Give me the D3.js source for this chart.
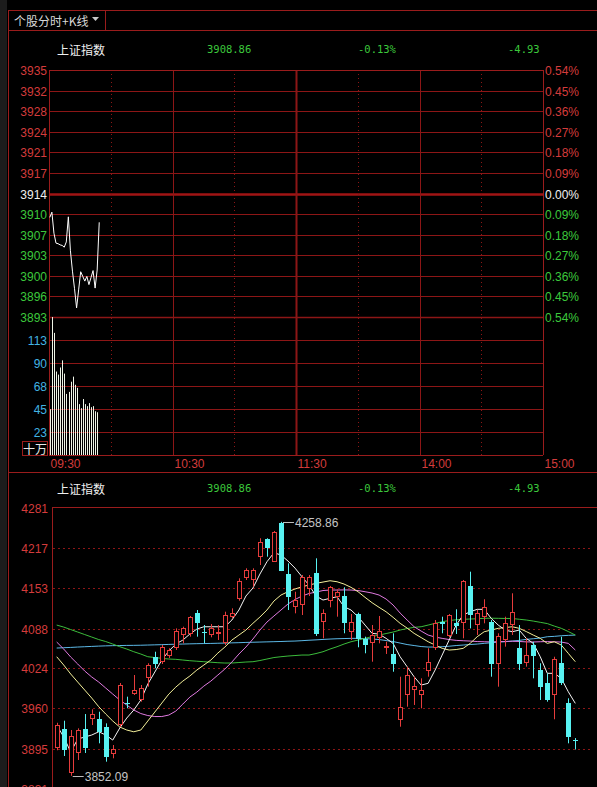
<!DOCTYPE html>
<html><head><meta charset="utf-8">
<script src="https://cdn.jsdelivr.net/npm/d3@7"></script>
<style>
html,body{margin:0;padding:0;background:#000;overflow:hidden;}
svg{display:block;}
</style></head>
<body>
<svg id="c" width="597" height="787"></svg>
<script>
// ---------- data ----------
const title = "上证指数";
const tabLabel = "个股分时+K线";
const preClose = 3913.79;
const lastPrice = "3908.86";
const changePct = "-0.13%";
const changeVal = "-4.93";

const priceTicks = [3935,3932,3928,3924,3921,3917,3914,3910,3907,3903,3900,3896,3893];
const pctValues  = [0.54,0.45,0.36,0.27,0.18,0.09,0,-0.09,-0.18,-0.27,-0.36,-0.45,-0.54];
const pctLabels  = ["0.54%","0.45%","0.36%","0.27%","0.18%","0.09%","0.00%","0.09%","0.18%","0.27%","0.36%","0.45%","0.54%"];
const volTicks = [113,90,68,45,23];
const volUnit = "十万";
const timeLabels = ["09:30","10:30","11:30","14:00","15:00"];
const timeMinutes = [0,60,120,180,240];

const intradayPrice = [3909.7,3910.6,3907.0,3905.3,3905.2,3905.0,3904.9,3904.6,3905.5,3909.8,
  3904.0,3900.5,3897.5,3894.2,3897.3,3900.4,3899.6,3898.8,3899.6,3898.2,
  3899.4,3900.6,3897.6,3900.7,3908.86];
const intradayVolume = [45,136,120,82,79,86,93,80,60,62,72,77,69,66,50,46,55,50,48,51,47,48,43,42];

const kTicks = [4281,4217,4153,4088,4024,3960,3895,3831];
const kOpen = [3896,3926.5,3856.6,3888.1,3926.5,3942.6,3942.6,3930.7,3887,3933.4,
  3969,3983.1,3973.5,4008.2,4042.8,4034.8,4043.9,4056.3,4077.6,4079.2,
  4113.3,4083,4077.6,4081,4064.3,4106.9,4134.8,4168.4,4165.7,4203,
  4230.8,4195,4257.5,4175.3,4122.9,4125.6,4151.3,4176.4,4098.9,4132.5,
  4138.9,4140,4082.9,4111.2,4070.7,4064.3,4072.3,4056.3,4047.2,3941.4,
  3981.5,3989.5,3981.5,4020.4,4056.3,4099,4076,4097.3,4096.3,4156,
  4093.6,4106.9,4098.9,4031.1,4069.2,4093.6,4056.3,4033.2,4061.6,4021.5,
  4000.6,3981.5,4033.2,3968.2,3909.7];
const kHigh = [3937,3940.3,3925.4,3928.1,3951,3958.6,3954.7,3936.1,3901.4,4000.7,
  3978.8,4013.5,3997.5,4032.3,4050.8,4061.6,4056.3,4088.2,4090.9,4108,
  4117.6,4093.6,4095.2,4093.6,4114.9,4120.3,4168.4,4184.4,4184.4,4232.5,
  4232.5,4244.2,4258.86,4192.4,4146.9,4173.7,4173.7,4200.4,4118.8,4156,
  4150.7,4154,4111.2,4113.3,4074.9,4093.6,4108,4066.8,4080.3,4010.8,
  4026.8,4010.8,4008.2,4056.3,4101.6,4106.9,4111.2,4118.8,4165.7,4179,
  4117.6,4134.8,4101.6,4080.3,4106.9,4144.4,4093.6,4072.3,4066.8,4032.3,
  4016.1,4042.8,4074.9,3976.2,3912.5];
const kLow = [3893,3883.8,3852.09,3877.4,3888.6,3933.4,3904.1,3874.7,3880.1,3930.2,
  3960.2,3981.5,3970.8,3994.8,4024.3,4031.1,4040.7,4053.6,4064.3,4074.9,
  4074.9,4064.3,4073.9,4069.6,4061.6,4104.3,4132.5,4165.7,4155,4189.7,
  4203,4194.5,4180,4117.6,4112.3,4109.6,4140,4076,4072.3,4121.9,
  4106.9,4080.3,4069.6,4057.9,4048.3,4034.8,4064.3,4047.2,4018.8,3930.7,
  3962.7,3965.5,3960.2,4010.8,4053.6,4080.3,4073.9,4079.2,4072.3,4088.2,
  4077.6,4096.3,4010.8,3994.8,4058.9,4077.6,4021.5,4026.8,4008.2,3973.5,
  3970.8,3942.6,3997.5,3904.1,3894.2];
const kClose = [3933,3893.4,3915.8,3925.4,3896.1,3951,3922.7,3881.7,3894.5,3997.5,
  3967,3989.5,3992.2,4029.5,4031.1,4058.9,4053.6,4084.4,4088.2,4106.9,
  4096.3,4081,4088.2,4083,4109.6,4113.3,4164.6,4181.7,4181.7,4227,
  4216.4,4243,4180.6,4138,4133.6,4170.9,4170.5,4078.4,4113.3,4154,
  4146.9,4096.3,4098.9,4070.7,4061.6,4077.6,4084.4,4060,4031.1,3962.7,
  4013.5,3995.9,3989.5,4034.8,4097.3,4095,4109.6,4092,4164.6,4109.6,
  4113.3,4121.9,4031.1,4076,4097.3,4114.9,4031.1,4045.5,4043.9,3993.8,
  3973.5,4038.7,4000.2,3913.8,3908.86];

const ma5 = [3933.4,3914.2,3890.1,3910.9,3914.2,3917.4,3922.6,3917.4,3909.3,3928.6,
  3944.6,3957.4,3973.5,3999.0,4018.3,4037.5,4051.9,4063.1,4069.5,4079.1,
  4087.1,4090.8,4090.8,4090.8,4090.8,4101.6,4117.6,4140.0,4152.8,4175.2,
  4194.9,4209.3,4205.7,4196.1,4184.8,4170.9,4157.6,4140.0,4133.6,4136.3,
  4138.9,4122.9,4117.6,4106.8,4093.5,4080.2,4079.1,4072.2,4064.2,4042.8,
  4026.8,4010.7,3997.4,4000.2,4021.5,4045.5,4069.5,4093.5,4109.6,4114.8,
  4118.7,4118.7,4104.3,4093.5,4085.5,4082.8,4085.5,4072.2,4064.2,4042.8,
  4016.2,4016.2,4008.2,3986.7,3968.1];
const ma10 = [4042.8,4029.5,4015.1,4002.2,3989.4,3976.6,3962.7,3951.0,3939.8,3930.2,
  3925.4,3922.6,3925.4,3939.8,3954.2,3968.6,3983.0,3994.2,4003.8,4011.9,
  4021.5,4029.5,4037.5,4048.7,4058.3,4069.5,4077.5,4085.5,4096.3,4106.4,
  4117.6,4132.0,4141.6,4146.9,4151.2,4154.9,4157.6,4160.3,4162.4,4164.5,
  4162.9,4159.2,4153.9,4146.9,4137.9,4129.3,4121.9,4114.8,4105.9,4096.3,
  4088.7,4080.2,4073.5,4066.8,4061.5,4056.2,4053.5,4054.3,4056.2,4064.2,
  4074.8,4082.8,4085.5,4088.3,4089.5,4090.8,4088.3,4083.1,4077.5,4072.2,
  4064.2,4066.8,4061.5,4048.2,4034.8];
const ma20 = [4066.3,4055.1,4042.3,4031.1,4019.9,4010.3,4002.2,3992.6,3983.0,3973.5,
  3965.4,3957.4,3951.8,3948.6,3947.0,3947.0,3949.4,3955.8,3967.0,3978.2,
  3986.2,3995.8,4003.8,4013.5,4023.1,4034.3,4047.1,4058.3,4071.1,4085.5,
  4098.3,4108.0,4117.6,4127.2,4134.4,4140.0,4144.0,4146.4,4148.8,4149.6,
  4149.6,4149.8,4149.6,4148.8,4146.9,4144.8,4141.6,4135.2,4125.6,4112.8,
  4101.6,4090.8,4083.9,4077.5,4074.3,4072.2,4070.3,4069.0,4068.4,4067.9,
  4067.1,4066.8,4066.5,4066.9,4067.3,4067.6,4067.2,4066.6,4066.4,4066.8,
  4067.1,4066.7,4066.3,4064.2,4053.5];
const ma60 = [4093.5,4090.3,4086.3,4082.3,4078.3,4074.3,4070.3,4067.1,4063.1,4058.8,
  4055.1,4050.8,4047.1,4042.8,4041.5,4040.2,4039.1,4038.6,4037.5,4036.4,
  4035.6,4034.8,4034.0,4033.2,4032.7,4032.7,4033.5,4034.3,4034.8,4036.7,
  4039.1,4041.5,4042.8,4043.9,4044.7,4045.5,4045.5,4047.9,4050.8,4055.1,
  4058.8,4063.1,4066.8,4069.5,4072.2,4075.1,4077.5,4079.9,4082.3,4085.5,
  4087.9,4089.9,4090.8,4093.5,4096.3,4098.8,4100.8,4102.0,4102.7,4103.2,
  4103.6,4104.3,4104.5,4104.3,4104.1,4104.0,4102.8,4101.6,4099.9,4097.9,
  4095.9,4091.9,4088.3,4083.1,4077.5];
const maLong = [4056.7,4057.2,4057.7,4058.3,4058.8,4059.3,4059.8,4060.2,4060.5,4060.7,
  4060.9,4061.0,4061.2,4061.5,4061.8,4062.1,4062.5,4062.8,4063.1,4063.4,
  4063.7,4063.9,4064.1,4064.4,4064.7,4065.0,4065.3,4065.7,4066.0,4066.3,
  4066.6,4066.9,4067.2,4067.6,4067.9,4068.5,4069.2,4069.8,4070.5,4071.1,
  4071.6,4071.9,4072.2,4072.2,4071.9,4071.1,4070.3,4068.7,4067.1,4064.7,
  4062.3,4060.7,4059.1,4058.3,4058.3,4058.8,4059.6,4060.7,4061.5,4062.3,
  4063.1,4064.2,4065.2,4066.3,4066.8,4067.9,4069.0,4070.6,4071.6,4072.7,
  4074.8,4075.4,4076.4,4077.0,4077.5];
const highLabel = "4258.86";
const lowLabel = "3852.09";

// ---------- drawing ----------
const svg = d3.select("#c");
const RED_GRID = "#8c1616", BORDER = "#9a1c1c";
const UPC = "#e63c3c", DNC = "#58f2f2", GREEN = "#3cc83c", TXTRED = "#d43c3c";
const NUM = "'Liberation Sans', Arial, sans-serif";
const CJK = "'Noto Sans CJK SC', sans-serif";
const MONO = "'DejaVu Sans Mono', monospace";

svg.append("rect").attr("width",597).attr("height",787).attr("fill","#000");
// left grey strip
svg.append("rect").attr("x",0).attr("y",0).attr("width",7).attr("height",787).attr("fill","#1c1c1c");
// frame lines
const hl = (x1,x2,y,c,w)=>svg.append("line").attr("x1",x1).attr("x2",x2).attr("y1",y).attr("y2",y).attr("stroke",c).attr("stroke-width",w||1);
const vl = (x,y1,y2,c,w)=>svg.append("line").attr("x1",x).attr("x2",x).attr("y1",y1).attr("y2",y2).attr("stroke",c).attr("stroke-width",w||1);
hl(8,597,10.5,BORDER);
hl(8,597,30.5,BORDER);
vl(8.5,10,787,BORDER);
vl(105.5,10,30,BORDER);
svg.append("text").attr("x",14).attr("y",20).attr("dominant-baseline","central")
  .attr("font-family",CJK).attr("font-size",12).attr("fill","#d8d8d8").text(tabLabel);
svg.append("path").attr("d","M92,17 L99,17 L95.5,21 Z").attr("fill","#c8c8c8");

// header function
function header(y){
  svg.append("text").attr("x",57).attr("y",y).attr("dominant-baseline","central")
    .attr("font-family",CJK).attr("font-size",12).attr("fill","#f0f0f0").text(title);
  [[207,lastPrice],[358,changePct],[508,changeVal]].forEach(([x,t])=>{
    svg.append("text").attr("x",x).attr("y",y).attr("dominant-baseline","central")
      .attr("font-family",MONO).attr("font-size",10.5).attr("fill",GREEN).text(t);
  });
}
header(49);
header(488);

// ---------- intraday panel ----------
const xT = d3.scaleLinear().domain([0,240]).range([49,543]);
const yP = d3.scaleLinear().domain([-0.54,0.54]).range([317,70]);
const yV = d3.scaleLinear().domain([0,135.6]).range([455,317]);
const toPct = p => (p-preClose)/preClose*100;

// horizontal price grid
pctValues.forEach((v,i)=>{
  const y = Math.round(yP(v))+0.5;
  const w = (v===0) ? 2.5 : (v===-0.54 ? 1.5 : 1);
  hl(49,543,y,v===0?"#a01414":RED_GRID,w);
  const col = v>0 ? TXTRED : (v<0 ? GREEN : "#f0f0f0");
  svg.append("text").attr("x",47).attr("y",y).attr("text-anchor","end").attr("dominant-baseline","central")
    .attr("font-family",NUM).attr("font-size",12).attr("fill",col).text(priceTicks[i]);
  svg.append("text").attr("x",545).attr("y",y).attr("dominant-baseline","central")
    .attr("font-family",NUM).attr("font-size",12).attr("fill",col).text(pctLabels[i]);
});
// volume grid
volTicks.forEach(v=>{
  const y = Math.round(yV(v))+0.5;
  hl(49,543,y,RED_GRID);
  svg.append("text").attr("x",47).attr("y",y).attr("text-anchor","end").attr("dominant-baseline","central")
    .attr("font-family",NUM).attr("font-size",12).attr("fill","#42b4e4").text(v);
});
// unit box
svg.append("rect").attr("x",22.5).attr("y",441.5).attr("width",25).attr("height",14)
  .attr("fill","none").attr("stroke",BORDER);
svg.append("text").attr("x",35).attr("y",448.5).attr("text-anchor","middle").attr("dominant-baseline","central")
  .attr("font-family",CJK).attr("font-size",12).attr("fill","#e8e8e8").text(volUnit);

// vertical time grid
timeMinutes.forEach((m,i)=>{
  const x = Math.round(xT(m))+0.5;
  vl(x,70,455, (i===0||i===4)?BORDER:RED_GRID, i===2?2:1);
  svg.append("text").attr("x",x+1).attr("y",464).attr("dominant-baseline","central")
    .attr("font-family",NUM).attr("font-size",12).attr("fill",TXTRED).text(timeLabels[i]);
});
[30,90,150,210].forEach(m=>{
  const x = Math.round(xT(m))+0.5;
  vl(x,70,455,RED_GRID).attr("stroke-dasharray","1,3");
});
hl(49,543,70.5,BORDER);
hl(49,543,455.5,BORDER);
hl(8,597,472.5,BORDER);

// volume bars
svg.append("g").selectAll("line").data(intradayVolume).join("line")
  .attr("x1",(d,i)=>Math.round(xT(i+0.5))+0.5).attr("x2",(d,i)=>Math.round(xT(i+0.5))+0.5)
  .attr("y1",yV(0)).attr("y2",d=>Math.max(317,yV(d)))
  .attr("stroke","#eef4e6").attr("stroke-width",1);
// price line
svg.append("path").datum(intradayPrice)
  .attr("d",d3.line().x((d,i)=>xT(i+0.4)).y(d=>yP(toPct(d))))
  .attr("fill","none").attr("stroke","#ffffff").attr("stroke-width",1);

// ---------- K-line panel ----------
const n = kClose.length;
const xK = d3.scaleLinear().domain([0,n-1]).range([56.7,575.3]);
const yK = d3.scaleLinear().domain([3895,4281]).range([749,508]);

svg.append("defs").append("clipPath").attr("id","kclip")
  .append("rect").attr("x",53).attr("y",508).attr("width",544).attr("height",279);

kTicks.forEach((v,i)=>{
  const y = Math.round(yK(v))+0.5;
  if(i>0) hl(53,592,y,RED_GRID).attr("stroke-dasharray","2,3");
  svg.append("text").attr("x",48).attr("y",y).attr("text-anchor","end").attr("dominant-baseline","central")
    .attr("font-family",NUM).attr("font-size",12).attr("fill",TXTRED).text(v);
});
hl(52,597,507.5,BORDER);
vl(52.5,507,787,BORDER);

const kg = svg.append("g").attr("clip-path","url(#kclip)");
// moving averages
const maSets = [[maLong,"#5cb8e6"],[ma60,"#3cbc3c"],[ma20,"#e07ae0"],[ma10,"#f4f09a"],[ma5,"#f4f4f4"]];
const maLine = d3.line().x((d,i)=>xK(i)).y(d=>yK(d));
maSets.forEach(([arr,c])=>{
  kg.append("path").datum(arr).attr("d",maLine).attr("fill","none").attr("stroke",c).attr("stroke-width",1);
});
// candles
for(let i=0;i<n;i++){
  const o=kOpen[i], c=kClose[i], h=kHigh[i], l=kLow[i];
  const cx = Math.round(xK(i));
  const up = c>o;
  const col = up?UPC:DNC;
  const yT = Math.round(yK(Math.max(o,c))), yB = Math.round(yK(Math.min(o,c)));
  if(up){
    kg.append("line").attr("x1",cx+0.5).attr("x2",cx+0.5).attr("y1",yK(h)).attr("y2",yT).attr("stroke",col);
    kg.append("line").attr("x1",cx+0.5).attr("x2",cx+0.5).attr("y1",yB).attr("y2",yK(l)).attr("stroke",col);
    kg.append("rect").attr("x",cx-2+0.5).attr("y",yT+0.5).attr("width",5-1).attr("height",Math.max(1,yB-yT-1))
      .attr("fill","#000").attr("stroke",col).attr("stroke-width",1);
  } else {
    kg.append("line").attr("x1",cx+0.5).attr("x2",cx+0.5).attr("y1",yK(h)).attr("y2",yK(l)).attr("stroke",col);
    kg.append("rect").attr("x",cx-2).attr("y",yT).attr("width",5).attr("height",Math.max(1,yB-yT))
      .attr("fill",col);
  }
}
// high / low markers
const iH = kHigh.indexOf(d3.max(kHigh)), iL = kLow.indexOf(d3.min(kLow));
[[iH,kHigh[iH],highLabel],[iL,kLow[iL],lowLabel]].forEach(([i,v,t])=>{
  const x = xK(i)+2, y = Math.round(yK(v))+0.5;
  svg.append("line").attr("x1",x).attr("x2",x+11).attr("y1",y).attr("y2",y).attr("stroke","#bcbcbc");
  svg.append("text").attr("x",x+12).attr("y",y).attr("dominant-baseline","central")
    .attr("font-family",NUM).attr("font-size",12).attr("fill","#c4c4c4").text(t);
});
</script>
</body></html>
